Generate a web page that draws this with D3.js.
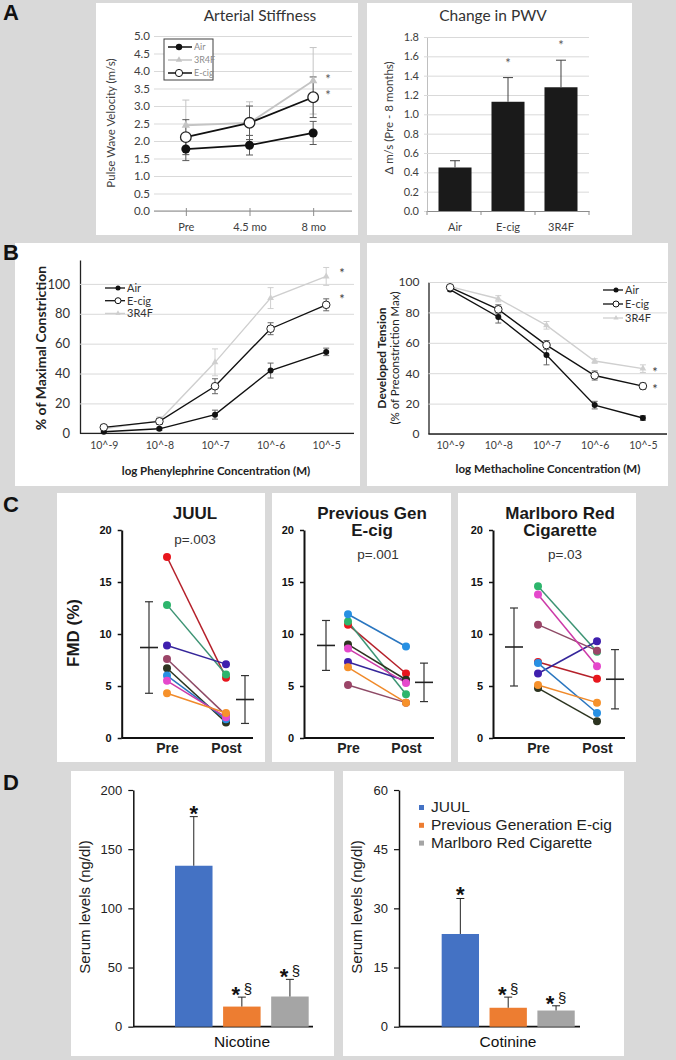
<!DOCTYPE html>
<html>
<head>
<meta charset="utf-8">
<script src="https://cdn.jsdelivr.net/npm/d3@7"></script>
<style>
  body { margin: 0; background: #d9d9d9; }
  svg { display: block; }
</style>
</head>
<body>
<svg id="fig" width="676" height="1060"></svg>
<script>
// ---------- data ----------
const aTimes = ['Pre', '4.5 mo', '8 mo'];
const pwvAir = [1.77, 1.88, 2.23];
const pwvAirErr = [0.33, 0.28, 0.33];
const pwv3r4f = [2.45, 2.52, 3.72];
const pwv3r4fErr = [0.72, 0.6, 0.95];
const pwvEcig = [2.11, 2.52, 3.25];
const pwvEcigErr = [0.5, 0.48, 0.58];
const pwvTicks = [0, 0.5, 1, 1.5, 2, 2.5, 3, 3.5, 4, 4.5, 5];

const pwvGroups = ['Air', 'E-cig', '3R4F'];
const pwvChange = [0.45, 1.13, 1.28];
const pwvChangeErr = [0.07, 0.25, 0.28];
const pwvChangeStars = ['', '*', '*'];
const changeTicks = [0, 0.2, 0.4, 0.6, 0.8, 1.0, 1.2, 1.4, 1.6, 1.8];

const concLabels = ['10^-9', '10^-8', '10^-7', '10^-6', '10^-5'];
const pheAir = [1, 3, 12.5, 42, 54.5];
const pheAirErr = [0.5, 1, 3, 5, 2.5];
const pheEcig = [4, 8, 31.5, 70, 86];
const pheEcigErr = [1.5, 2, 5, 4, 4];
const phe3r4f = [3, 8.5, 47.5, 90.5, 105];
const phe3r4fErr = [1, 2.5, 9, 7, 6];
const mchAir = [95, 77, 52, 19, 10.5];
const mchAirErr = [1, 4, 6.5, 2.5, 1.5];
const mchEcig = [96.5, 82, 58.5, 38.5, 31.5];
const mchEcigErr = [1, 3, 3, 3, 2];
const mch3r4f = [97, 89, 71.5, 48, 43];
const mch3r4fErr = [1, 2, 2.5, 1.5, 2.5];
const tensionTicks = [0, 20, 40, 60, 80, 100];

const fmdDot = ['#e8161d', '#2db56c', '#3f1fae', '#9b4568', '#2c3420', '#2790e3', '#e548cc', '#f6912b'];
const fmdLine = ['#b5202a', '#3d9474', '#35269a', '#8e4a66', '#2c3420', '#2a76c0', '#cc3aa8', '#f08a2a'];
const juulPre = [17.4, 12.8, 8.9, 7.6, 6.7, 6.0, 5.5, 4.3];
const juulPost = [5.8, 6.1, 7.1, 2.2, 1.5, 1.8, 2.0, 2.4];
const prevPre = [10.9, 11.2, 7.3, 5.1, 9.0, 11.9, 8.6, 6.8];
const prevPost = [6.2, 4.2, 5.5, 3.4, 5.6, 8.8, 5.3, 3.4];
const marlPre = [7.3, 14.6, 6.2, 10.9, 4.8, 7.2, 13.8, 5.1];
const marlPost = [5.7, 8.3, 9.3, 8.4, 1.6, 2.4, 6.9, 3.4];
const juulMean = [8.7, 3.7], juulSd = [4.4, 2.3];
const prevMean = [8.9, 5.35], prevSd = [2.4, 1.85];
const marlMean = [8.75, 5.65], marlSd = [3.75, 2.85];
const fmdTicks = [0, 5, 10, 15, 20];

const serumGroups = ['JUUL', 'Previous Generation E-cig', 'Marlboro Red Cigarette'];
const serumColors = ['#4472c4', '#ed7d31', '#a5a5a5'];
const nicotine = [136, 17, 25.5];
const nicotineErr = [41.5, 8, 14.5];
const cotinine = [23.5, 4.8, 4.1];
const cotinineErr = [9, 2.7, 1.2];
const serumStars = ['*', '*§', '*§'];

// ---------- layout ----------
const svg = d3.select('#fig');
const CAL = 'Lato, "Open Sans", sans-serif';
const ARI = '"Liberation Sans", Arial, sans-serif';

svg.append('rect').attr('width', 676).attr('height', 1060).attr('fill', '#d9d9d9');

function box(x, y, w, h) {
  svg.append('rect').attr('x', x).attr('y', y).attr('width', w).attr('height', h).attr('fill', '#fff');
}
box(96, 3, 262, 232); box(367, 3, 265, 232);
box(15, 243, 345, 243); box(367, 243, 301, 243);
box(57, 493, 208, 269); box(272, 493, 179, 269); box(458, 493, 178, 269);
box(71, 771, 263, 285); box(343, 771, 281, 285);

[['A', 20], ['B', 260], ['C', 512], ['D', 790]].forEach(([t, y]) => {
  svg.append('text').attr('x', 3).attr('y', y).text(t)
    .attr('font-family', ARI).attr('font-weight', 'bold').attr('font-size', 22).attr('fill', '#111');
});

function label(x, y, t, opts = {}) {
  const el = svg.append('text').attr('x', x).attr('y', y).text(t)
    .attr('font-family', opts.font || CAL)
    .attr('font-size', opts.size || 12)
    .attr('font-weight', opts.weight || 'normal')
    .attr('fill', opts.fill || '#404040')
    .attr('text-anchor', opts.anchor || 'middle');
  if (opts.rotate) el.attr('transform', `rotate(-90,${x},${y})`).attr('dominant-baseline', 'middle');
  return el;
}

function errBars(g, xs, ys, vals, errs, color, cap, upOnly) {
  vals.forEach((v, i) => {
    const x = xs(i), lo = upOnly ? v : v - errs[i], hi = v + errs[i];
    g.append('line').attr('x1', x).attr('x2', x).attr('y1', ys(lo)).attr('y2', ys(hi)).attr('stroke', color).attr('stroke-width', 1);
    g.append('line').attr('x1', x - cap).attr('x2', x + cap).attr('y1', ys(hi)).attr('y2', ys(hi)).attr('stroke', color).attr('stroke-width', 1);
    if (!upOnly) g.append('line').attr('x1', x - cap).attr('x2', x + cap).attr('y1', ys(lo)).attr('y2', ys(lo)).attr('stroke', color).attr('stroke-width', 1);
  });
}

// ---------- A: Arterial stiffness ----------
(function () {
  const g = svg.append('g');
  const x = d3.scalePoint().domain(aTimes).range([154, 345]).padding(0.5);
  const y = d3.scaleLinear().domain([0, 5]).range([211, 36]);

  const ya = g.append('g').attr('transform', 'translate(154,0)')
    .call(d3.axisLeft(y).tickValues(pwvTicks).tickFormat(d3.format('.1f')).tickSizeInner(-198).tickSizeOuter(0).tickPadding(4));
  ya.select('.domain').remove();
  ya.selectAll('line').attr('stroke', '#d9d9d9');
  ya.selectAll('text').attr('font-family', CAL).attr('font-size', 11.5).attr('fill', '#404040');

  const xa = g.append('g').attr('transform', 'translate(0,211)')
    .call(d3.axisBottom(x).tickSizeInner(5).tickSizeOuter(0).tickPadding(7));
  xa.select('.domain').attr('d', 'M154,0H352').attr('stroke', '#8c8c8c');
  xa.selectAll('line').attr('stroke', '#8c8c8c').attr('y1', -3);
  xa.selectAll('text').attr('font-family', CAL).attr('font-size', 11).attr('fill', '#404040');

  const xi = i => x(aTimes[i]);
  errBars(g, xi, y, pwv3r4f, pwv3r4fErr, '#c4c4c4', 3.5);
  errBars(g, xi, y, pwvAir, pwvAirErr, '#595959', 3.5);
  errBars(g, xi, y, pwvEcig, pwvEcigErr, '#595959', 3.5);

  const line = d3.line().x((d, i) => xi(i)).y(d => y(d));
  g.append('path').attr('d', line(pwv3r4f)).attr('fill', 'none').attr('stroke', '#c4c4c4').attr('stroke-width', 1.8);
  g.append('path').attr('d', line(pwvAir)).attr('fill', 'none').attr('stroke', '#111').attr('stroke-width', 1.8);
  g.append('path').attr('d', line(pwvEcig)).attr('fill', 'none').attr('stroke', '#111').attr('stroke-width', 1.8);

  const tri = d3.symbol(d3.symbolTriangle).size(30);
  pwv3r4f.forEach((v, i) => g.append('path').attr('d', tri()).attr('transform', `translate(${xi(i)},${y(v)})`).attr('fill', '#c4c4c4'));
  pwvAir.forEach((v, i) => g.append('circle').attr('cx', xi(i)).attr('cy', y(v)).attr('r', 4.5).attr('fill', '#111'));
  pwvEcig.forEach((v, i) => g.append('circle').attr('cx', xi(i)).attr('cy', y(v)).attr('r', 5.3).attr('fill', '#fff').attr('stroke', '#222').attr('stroke-width', 1.3));

  // legend
  g.append('rect').attr('x', 164).attr('y', 39).attr('width', 49).attr('height', 41).attr('fill', '#fff').attr('stroke', '#404040');
  const leg = [['Air', '#111', 'dot'], ['3R4F', '#c4c4c4', 'tri'], ['E-cig', '#111', 'open']];
  leg.forEach(([t, c, m], i) => {
    const ly = 47 + i * 13;
    g.append('line').attr('x1', 168).attr('x2', 192).attr('y1', ly).attr('y2', ly).attr('stroke', c).attr('stroke-width', 1.5);
    if (m === 'dot') g.append('circle').attr('cx', 179).attr('cy', ly).attr('r', 3.2).attr('fill', c);
    if (m === 'tri') g.append('path').attr('d', d3.symbol(d3.symbolTriangle).size(18)()).attr('transform', `translate(179,${ly})`).attr('fill', c);
    if (m === 'open') g.append('circle').attr('cx', 179).attr('cy', ly).attr('r', 3.6).attr('fill', '#fff').attr('stroke', c);
    label(194, ly + 3, t, { size: 9, fill: '#8c8c8c', anchor: 'start' });
  });

  label(328, 84, '*', { size: 13, fill: '#595959' });
  label(328, 100, '*', { size: 13, fill: '#595959' });
  label(260, 21, 'Arterial Stiffness', { size: 15.5, fill: '#333' });
  label(112, 123, 'Pulse Wave Velocity (m/s)', { size: 11.5, rotate: true });
})();

// ---------- A: Change in PWV ----------
(function () {
  const g = svg.append('g');
  const x = d3.scaleBand().domain(pwvGroups).range([427, 589]).paddingInner(0.377).paddingOuter(0.217);
  const y = d3.scaleLinear().domain([0, 1.8]).range([211, 37]);

  const ya = g.append('g').attr('transform', 'translate(427,0)')
    .call(d3.axisLeft(y).tickValues(changeTicks).tickFormat(d3.format('.1f')).tickSizeInner(-162).tickSizeOuter(0).tickPadding(8));
  ya.select('.domain').attr('stroke', '#bfbfbf');
  ya.selectAll('.tick line').attr('stroke', '#d9d9d9').attr('x1', -3);
  ya.selectAll('text').attr('font-family', CAL).attr('font-size', 11).attr('fill', '#404040');

  const xa = g.append('g').attr('transform', 'translate(0,211)')
    .call(d3.axisBottom(x).tickSize(0).tickPadding(12));
  xa.select('.domain').attr('stroke', '#8c8c8c');
  xa.selectAll('text').attr('font-family', CAL).attr('font-size', 11).attr('fill', '#404040');
  // category separators
  const step = x.step();
  pwvGroups.concat(['end']).forEach((d, i) => {
    const sx = 427 + i * (162 / 3);
    g.append('line').attr('x1', sx).attr('x2', sx).attr('y1', 211).attr('y2', 215).attr('stroke', '#8c8c8c');
  });

  g.selectAll('rect.bar').data(pwvChange).enter().append('rect')
    .attr('x', (d, i) => x(pwvGroups[i])).attr('width', x.bandwidth())
    .attr('y', d => y(d)).attr('height', d => 211 - y(d)).attr('fill', '#1a1a1a');
  errBars(g, i => x(pwvGroups[i]) + x.bandwidth() / 2, y, pwvChange, pwvChangeErr, '#404040', 5, true);
  pwvChange.forEach((v, i) => {
    if (pwvChangeStars[i]) label(x(pwvGroups[i]) + x.bandwidth() / 2, y(v + pwvChangeErr[i]) - 10, pwvChangeStars[i], { size: 13, fill: '#595959' });
  });
  label(493, 21, 'Change in PWV', { size: 15.5, fill: '#333' });
  label(390, 118, '\u0394 m/s  (Pre - 8 months)', { size: 11.5, rotate: true });
})();

// ---------- B: dose response ----------
function doseChart(opts) {
  const g = svg.append('g');
  const x = d3.scalePoint().domain(concLabels).range(opts.xr).padding(0.5);
  const y = d3.scaleLinear().domain(opts.yd).range(opts.yr);
  const w = opts.xr[1] - opts.axisX;

  const ya = g.append('g').attr('transform', `translate(${opts.axisX},0)`)
    .call(d3.axisLeft(y).tickValues(tensionTicks).tickSizeInner(-w).tickSizeOuter(0).tickPadding(opts.pad));
  ya.select('.domain').attr('stroke', '#222').attr('stroke-width', 1.3);
  ya.selectAll('.tick line').attr('stroke', '#d9d9d9');
  ya.selectAll('text').attr('font-family', CAL).attr('font-size', opts.tickSize).attr('fill', '#333');

  const xa = g.append('g').attr('transform', `translate(0,${opts.yr[0]})`)
    .call(d3.axisBottom(x).tickSize(0).tickPadding(8));
  xa.select('.domain').attr('d', `M${opts.axisX},0H${opts.xr[1]}`).attr('stroke', '#222').attr('stroke-width', 1.3);
  xa.selectAll('text').attr('font-family', CAL).attr('font-size', 10.5).attr('fill', '#404040');

  const xi = i => x(concLabels[i]);
  const line = d3.line().x((d, i) => xi(i)).y(d => y(d));
  const series = [
    [opts.c3, opts.c3e, '#cfcfcf', 'tri'],
    [opts.air, opts.aire, '#111', 'dot'],
    [opts.ecig, opts.ecige, '#111', 'open']
  ];
  series.forEach(([v, e, c]) => {
    errBars(g, xi, y, v, e, c === '#111' ? '#666' : '#cfcfcf', 3);
    g.append('path').attr('d', line(v)).attr('fill', 'none').attr('stroke', c).attr('stroke-width', 1.4);
  });
  const tri = d3.symbol(d3.symbolTriangle).size(20);
  series.forEach(([v, e, c, m]) => {
    v.forEach((d, i) => {
      if (m === 'tri') g.append('path').attr('d', tri()).attr('transform', `translate(${xi(i)},${y(d)})`).attr('fill', c);
      if (m === 'dot') g.append('circle').attr('cx', xi(i)).attr('cy', y(d)).attr('r', 3).attr('fill', c);
      if (m === 'open') g.append('circle').attr('cx', xi(i)).attr('cy', y(d)).attr('r', 3.8).attr('fill', '#fff').attr('stroke', '#222').attr('stroke-width', 1);
    });
  });

  // legend
  const leg = [['Air', '#111', 'dot'], ['E-cig', '#111', 'open'], ['3R4F', '#cfcfcf', 'tri']];
  leg.forEach(([t, c, m], i) => {
    const ly = opts.legY + i * opts.legStep, lx = opts.legX;
    g.append('line').attr('x1', lx).attr('x2', lx + 20).attr('y1', ly).attr('y2', ly).attr('stroke', c).attr('stroke-width', 1.3);
    if (m === 'dot') g.append('circle').attr('cx', lx + 13).attr('cy', ly).attr('r', 2.5).attr('fill', c);
    if (m === 'tri') g.append('path').attr('d', d3.symbol(d3.symbolTriangle).size(12)()).attr('transform', `translate(${lx + 13},${ly})`).attr('fill', c);
    if (m === 'open') g.append('circle').attr('cx', lx + 13).attr('cy', ly).attr('r', 3).attr('fill', '#fff').attr('stroke', c);
    label(lx + 22, ly + 4, t, { size: 11, fill: '#333', anchor: 'start' });
  });
  opts.stars.forEach(([sx, sy]) => label(sx, sy, '*', { size: 13, fill: '#404040' }));
  label(opts.xLabel[0], opts.xLabel[1], opts.xLabel[2], { size: 11.5, weight: 'bold', fill: '#222' });
}

doseChart({
  xr: [76, 354], axisX: 80, yd: [0, 116], yr: [433.3, 260], pad: 10, tickSize: 13,
  air: pheAir, aire: pheAirErr, ecig: pheEcig, ecige: pheEcigErr, c3: phe3r4f, c3e: phe3r4fErr,
  legX: 105, legY: 288, legStep: 12.7,
  stars: [[342, 278], [342, 304]],
  xLabel: [216, 475, 'log Phenylephrine Concentration (M)']
});
label(42, 348, '% of Maximal Constriction', { size: 14, weight: 'bold', fill: '#222', rotate: true });

doseChart({
  xr: [426, 667], axisX: 428.5, yd: [0, 100], yr: [434, 282], pad: 9, tickSize: 12,
  air: mchAir, aire: mchAirErr, ecig: mchEcig, ecige: mchEcigErr, c3: mch3r4f, c3e: mch3r4fErr,
  legX: 603, legY: 290, legStep: 14,
  stars: [[655, 377], [655, 394]],
  xLabel: [548, 473, 'log Methacholine Concentration (M)']
});
label(383, 358, 'Developed Tension', { size: 12, weight: 'bold', fill: '#222', rotate: true });
label(396, 358, '(% of Preconstriction Max)', { size: 11.5, fill: '#222', rotate: true });

// ---------- C: FMD ----------
const yF = d3.scaleLinear().domain([0, 20]).range([738, 530]);
function fmdPanel(o) {
  const g = svg.append('g');
  const x = d3.scalePoint().domain(['Pre', 'Post']).range([o.pre, o.post]);
  const ya = g.append('g').attr('transform', `translate(${o.ax},0)`)
    .call(d3.axisLeft(yF).tickValues(fmdTicks).tickSizeInner(4).tickSizeOuter(0).tickPadding(6));
  ya.select('.domain').attr('stroke', '#111').attr('stroke-width', 2);
  ya.selectAll('.tick line').attr('stroke', '#111').attr('stroke-width', 1.5);
  ya.selectAll('text').attr('font-family', ARI).attr('font-weight', 'bold').attr('font-size', 11).attr('fill', '#111');

  const xa = g.append('g').attr('transform', 'translate(0,738)')
    .call(d3.axisBottom(x).tickSize(0).tickPadding(5));
  xa.select('.domain').attr('d', `M${o.ax},0H${o.xEnd}`).attr('stroke', '#111').attr('stroke-width', 2);
  xa.selectAll('text').attr('font-family', ARI).attr('font-weight', 'bold').attr('font-size', 14).attr('fill', '#222');

  // mean +/- SD
  [o.preBar, o.postBar].forEach((bx, i) => {
    const m = o.mean[i], s = o.sd[i];
    g.append('line').attr('x1', bx).attr('x2', bx).attr('y1', yF(m - s)).attr('y2', yF(m + s)).attr('stroke', '#333').attr('stroke-width', 1.2);
    [m - s, m + s].forEach(v => g.append('line').attr('x1', bx - 4).attr('x2', bx + 4).attr('y1', yF(v)).attr('y2', yF(v)).attr('stroke', '#333').attr('stroke-width', 1.2));
    g.append('line').attr('x1', bx - 9).attr('x2', bx + 9).attr('y1', yF(m)).attr('y2', yF(m)).attr('stroke', '#222').attr('stroke-width', 1.6);
  });

  o.preV.forEach((v, i) => {
    g.append('line').attr('x1', x('Pre')).attr('x2', x('Post')).attr('y1', yF(v)).attr('y2', yF(o.postV[i]))
      .attr('stroke', fmdLine[i]).attr('stroke-width', 1.5);
  });
  o.preV.forEach((v, i) => {
    g.append('circle').attr('cx', x('Pre')).attr('cy', yF(v)).attr('r', 4).attr('fill', fmdDot[i]);
    g.append('circle').attr('cx', x('Post')).attr('cy', yF(o.postV[i])).attr('r', 4).attr('fill', fmdDot[i]);
  });

  o.title.forEach((t, i) => label(o.tx, 519 + i * 17, t, { font: ARI, size: 17, weight: 'bold', fill: '#1a1a1a' }));
  label(o.px, o.py, o.p, { font: ARI, size: 13.5, fill: '#333' });
}
fmdPanel({ ax: 121.7, xEnd: 253, pre: 167, post: 226, preBar: 149, postBar: 245, preV: juulPre, postV: juulPost,
  mean: juulMean, sd: juulSd, title: ['JUUL'], tx: 195, p: 'p=.003', px: 195, py: 544 });
fmdPanel({ ax: 304, xEnd: 434, pre: 348, post: 406, preBar: 326, postBar: 424, preV: prevPre, postV: prevPost,
  mean: prevMean, sd: prevSd, title: ['Previous Gen', 'E-cig'], tx: 372, p: 'p=.001', px: 378, py: 559 });
fmdPanel({ ax: 493, xEnd: 625, pre: 538, post: 597, preBar: 514, postBar: 615, preV: marlPre, postV: marlPost,
  mean: marlMean, sd: marlSd, title: ['Marlboro Red', 'Cigarette'], tx: 560, p: 'p=.03', px: 565, py: 559 });
label(75, 633, 'FMD (%)', { font: ARI, size: 17, weight: 'bold', fill: '#1a1a1a', rotate: true });

// ---------- D: serum ----------
function serumPanel(o) {
  const g = svg.append('g');
  const x = d3.scaleBand().domain(serumGroups).range(o.xr).paddingInner(0.22).paddingOuter(0.2);
  const y = d3.scaleLinear().domain([0, o.max]).range([1026.7, 790]);
  const ya = g.append('g').attr('transform', `translate(${o.ax},0)`)
    .call(d3.axisLeft(y).tickValues(o.ticks).tickSizeInner(5).tickSizeOuter(0).tickPadding(6));
  ya.select('.domain').attr('stroke', '#111').attr('stroke-width', 1.5);
  ya.selectAll('.tick line').attr('stroke', '#111').attr('stroke-width', 1.2);
  ya.selectAll('text').attr('font-family', ARI).attr('font-size', 13).attr('fill', '#222');
  g.append('line').attr('x1', o.ax).attr('x2', o.xEnd).attr('y1', 1026.7).attr('y2', 1026.7).attr('stroke', '#111').attr('stroke-width', 1.8);

  g.selectAll('rect.bar').data(o.vals).enter().append('rect')
    .attr('x', (d, i) => x(serumGroups[i])).attr('width', x.bandwidth())
    .attr('y', d => y(d)).attr('height', d => 1026.7 - y(d)).attr('fill', (d, i) => serumColors[i]);
  errBars(g, i => x(serumGroups[i]) + x.bandwidth() / 2, y, o.vals, o.errs, '#222', 4, true);
  o.vals.forEach((v, i) => {
    const cx = x(serumGroups[i]) + x.bandwidth() / 2, top = y(v + o.errs[i]);
    const s = serumStars[i];
    if (s.length === 1) {
      label(cx, top + 4, '*', { font: ARI, size: 22, weight: 'bold', fill: '#111' });
    } else {
      label(cx - 6, top + 5, '*', { font: ARI, size: 22, weight: 'bold', fill: '#111' });
      label(cx + 6, top - 3, '§', { font: ARI, size: 15, fill: '#111' });
    }
  });
  label(o.lx, 1047, o.name, { font: ARI, size: 15.5, fill: '#111' });
  label(o.yl, 907, 'Serum levels (ng/dl)', { font: ARI, size: 15, fill: '#222', rotate: true });
}
serumPanel({ ax: 133.3, xEnd: 313, xr: [165.4, 318.3], max: 200, ticks: [0, 50, 100, 150, 200],
  vals: nicotine, errs: nicotineErr, name: 'Nicotine', lx: 242, yl: 86 });
serumPanel({ ax: 399, xEnd: 580, xr: [432.1, 584.3], max: 60, ticks: [0, 15, 30, 45, 60],
  vals: cotinine, errs: cotinineErr, name: 'Cotinine', lx: 508, yl: 358 });

// legend D
serumGroups.forEach((t, i) => {
  const ly = 806 + i * 17.8;
  svg.append('rect').attr('x', 419).attr('y', ly - 1).attr('width', 5).attr('height', 5).attr('fill', serumColors[i]);
  label(431, ly + 6, t, { font: ARI, size: 15.5, fill: '#222', anchor: 'start' });
});
</script>
</body>
</html>
